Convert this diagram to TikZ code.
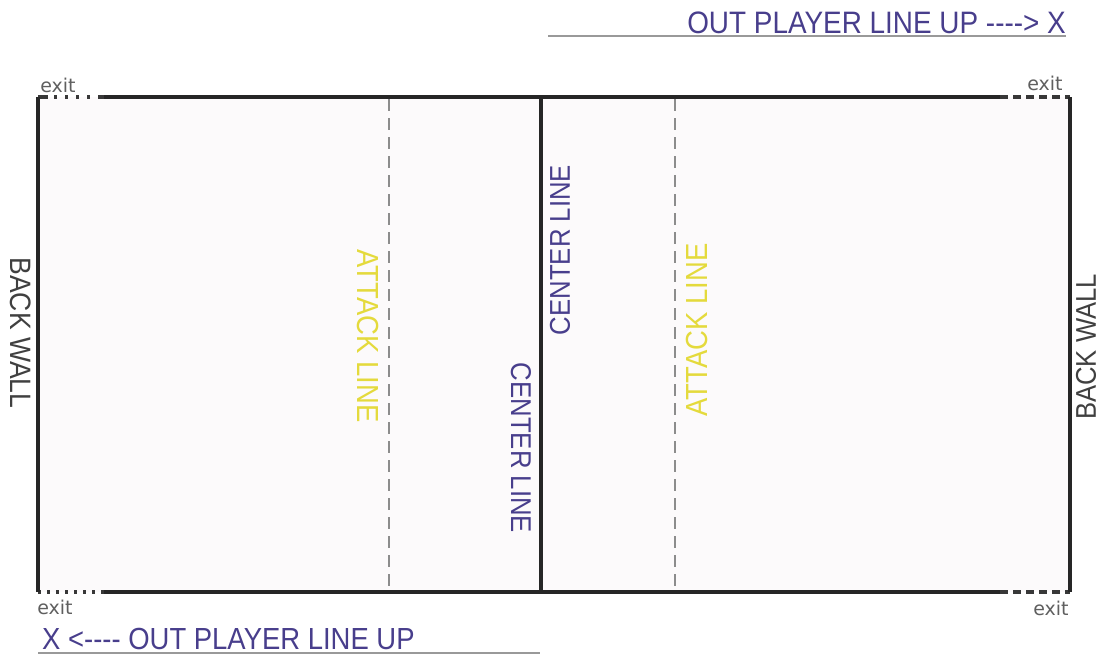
\documentclass[tikz,border=0pt]{standalone}
\usepackage{fontspec}
\setmainfont{Liberation Sans}
\newfontfamily\condfont[FakeStretch=0.9]{Liberation Sans}
\newfontfamily\exitfont{DejaVu Sans}
\definecolor{bluetxt}{RGB}{72,62,140}
\definecolor{yellowtxt}{RGB}{228,218,60}
\definecolor{courtfill}{RGB}{252,250,251}
\definecolor{exitgray}{RGB}{95,95,95}
\tikzset{
  lbl/.style={inner sep=0pt, text=bluetxt},
  atk/.style={inner sep=0pt, text=yellowtxt},
  exitlbl/.style={inner sep=0pt, text=exitgray, font=\exitfont\fontsize{19}{19}\selectfont},
  wall/.style={line width=3.2pt, draw=black!85},
  midline/.style={line width=4pt, draw=black!85},
  attackline/.style={line width=1.3pt, draw=black!45, dash pattern=on 12pt off 7pt},
  dotline/.style={line width=3.2pt, draw=black!78, dash pattern=on 3pt off 6pt},
  dashline/.style={line width=3.2pt, draw=black!78, dash pattern=on 8pt off 5pt},
  uline/.style={line width=1.2pt, draw=black!40}
}
\begin{document}
\begin{tikzpicture}[x=1pt,y=-1pt]
\useasboundingbox (0,0) rectangle (1102,656);
% court corners
\coordinate (tl) at (38,97);
\coordinate (tr) at (1070,97);
\coordinate (bl) at (38,592);
\coordinate (br) at (1070,592);
\coordinate (tls) at (104,97);
\coordinate (trs) at (1000,97);
\coordinate (bls) at (104,592);
\coordinate (brs) at (1000,592);
\coordinate (ct) at (541,97);
\coordinate (cb) at (541,592);
\coordinate (alt) at (389,99);
\coordinate (alb) at (389,592);
\coordinate (art) at (675,99);
\coordinate (arb) at (675,592);
\fill[courtfill] (tl) rectangle (br);
% attack lines
\draw[attackline] (alt) -- (alb);
\draw[attackline] (art) -- (arb);
% side lines
\draw[wall] (tls) -- (trs);
\draw[wall] (bls) -- (brs);
\draw[dotline, dash pattern=on 10pt off 6pt on 3pt off 8pt on 3pt off 8pt on 3pt off 8pt on 3pt off 8pt] (tl) -- (tls);
\draw[dotline] (bl) -- (bls);
\draw[dashline] (trs) -- (tr);
\draw[dashline] (brs) -- (br);
% walls
\draw[wall] (tl) -- (bl);
\draw[wall] (tr) -- (br);
% center line
\draw[midline] (ct) -- (cb);
% labels
\node[lbl, rotate=-90, font=\condfont\fontsize{29.5}{29.5}\selectfont, text=black!75] (bwl) at (21,333) {BACK WALL};
\node[lbl, rotate=90, font=\condfont\fontsize{28.5}{28.5}\selectfont, text=black!75] (bwr) at (1086,347) {BACK WALL};
\node[atk, rotate=-90, font=\condfont\fontsize{30.5}{30.5}\selectfont] (atl) at (368,336) {ATTACK LINE};
\node[atk, rotate=90, font=\condfont\fontsize{30.5}{30.5}\selectfont] (atr) at (697,330) {ATTACK LINE};
\node[lbl, rotate=90, font=\condfont\fontsize{28.6}{28.6}\selectfont] (clr) at (560,250) {CENTER LINE};
\node[lbl, rotate=-90, font=\condfont\fontsize{28.6}{28.6}\selectfont] (cll) at (521,448) {CENTER LINE};
% exits
\node[exitlbl] (e1) at (58,85) {exit};
\node[exitlbl] (e2) at (1045,83) {exit};
\node[exitlbl] (e3) at (55,607) {exit};
\node[exitlbl] (e4) at (1051,608) {exit};
% out player line up
\node[lbl, anchor=east, font=\condfont\fontsize{31}{31}\selectfont] (opt) at (1066,23) {OUT PLAYER LINE UP ----> X};
\coordinate (ut1) at (548,36);
\coordinate (ut2) at (1066,36);
\draw[uline] (ut1) -- (ut2);
\node[lbl, anchor=west, font=\condfont\fontsize{30.5}{30.5}\selectfont] (opb) at (42,639) {X <---- OUT PLAYER LINE UP};
\coordinate (ub1) at (38,653);
\coordinate (ub2) at (540,653);
\draw[uline] (ub1) -- (ub2);
\end{tikzpicture}
\end{document}
